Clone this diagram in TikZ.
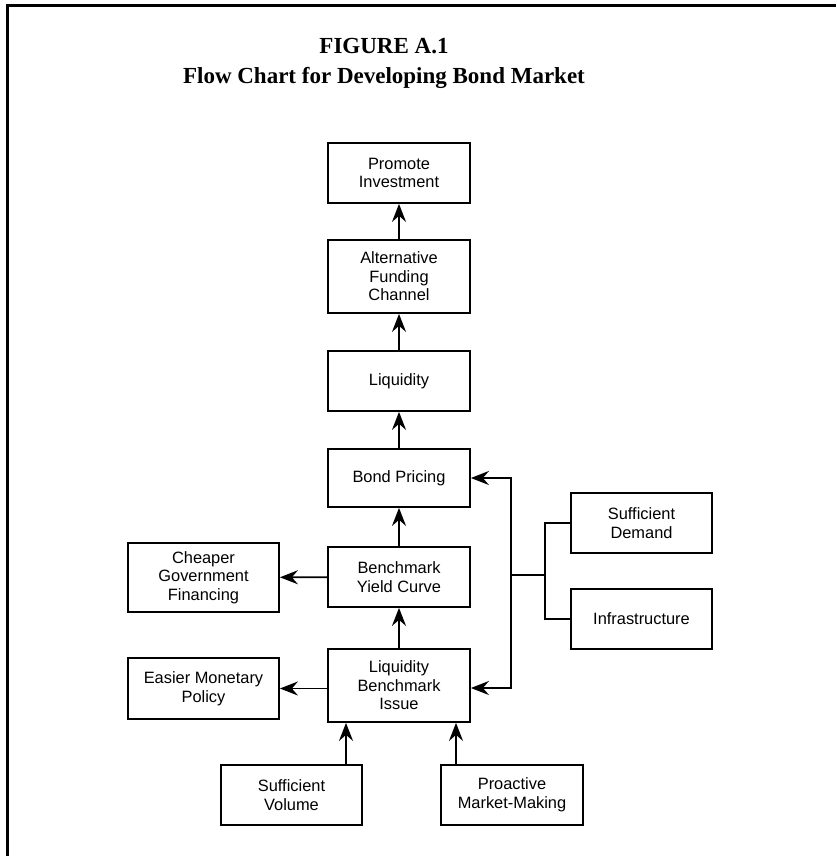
\documentclass[tikz,border=0pt]{standalone}
\usepackage{fontspec}
\setmainfont{Liberation Sans}
\newfontfamily\titlefont{Liberation Serif}
\usetikzlibrary{arrows.meta}
\tikzset{
  box/.style={draw, line width=0.9pt, inner sep=0pt, align=center,
    minimum width=71pt, minimum height=30pt, font=\fontsize{8.2}{9.3}\selectfont},
  link/.style={line width=0.9pt, -{Stealth[length=9pt,width=7pt,inset=3pt]}},
  wire/.style={line width=0.9pt}
}
\begin{document}
\begin{tikzpicture}[x=0.5pt,y=-0.5pt]
    \useasboundingbox (0,0) rectangle (836,856);
    \draw[line width=1.5pt] (7,856) -- (7,6) -- (836,6);
    \node[font=\titlefont\bfseries\fontsize{11.5}{15}\selectfont, align=center] (title) at (384,63)
      {FIGURE A.1\\Flow\ Chart\ for\ Developing\ Bond\ Market};

    \node[box] (promote) at (399,173) {Promote\\Investment};
    \node[box, minimum height=36.5pt] (funding) at (399,276.5) {Alternative\\Funding\\Channel};
    \node[box] (liquidity) at (399,381) {Liquidity};
    \node[box, minimum height=29pt] (pricing) at (399,478) {Bond Pricing};
    \node[box] (curve) at (399,577) {Benchmark\\Yield Curve};
    \node[box, minimum height=36.5pt] (issue) at (399,685.5) {Liquidity\\Benchmark\\Issue};
    \node[box, minimum width=75.5pt, minimum height=34.5pt] (financing) at (203.5,577.5) {Cheaper\\Government\\Financing};
    \node[box, minimum width=75.5pt, minimum height=30.5pt] (monetary) at (203.5,688.5) {Easier Monetary\\Policy};
    \node[box, minimum width=70.5pt] (volume) at (291.5,795) {Sufficient\\Volume};
    \node[box] (making) at (512,795) {Proactive\\Market-Making};
    \node[box, minimum width=70.5pt] (demand) at (641.5,523) {Sufficient\\Demand};
    \node[box, minimum width=70.5pt] (infra) at (641.5,619) {Infrastructure};

    \coordinate (join) at (545,575);
    \coordinate (split) at (511,575);

    \draw[link] (funding) -- (promote);
    \draw[link] (liquidity) -- (funding);
    \draw[link] (pricing) -- (liquidity);
    \draw[link] (curve) -- (pricing);
    \draw[link] (issue) -- (curve);
    \draw[link] (curve) -- (financing);
    \draw[link] (issue.west |- monetary) -- (monetary);
    \draw[link] (volume.north -| 346,0) -- (issue.south -| 346,0);
    \draw[link] (making.north -| 456,0) -- (issue.south -| 456,0);
    \draw[wire] (demand.west) -| (join) |- (infra.west);
    \draw[wire] (join) -- (split);
    \draw[link] (split) |- (pricing.east);
    \draw[link] (split) |- (issue.east |- 0,688);
  \end{tikzpicture}
\end{document}
